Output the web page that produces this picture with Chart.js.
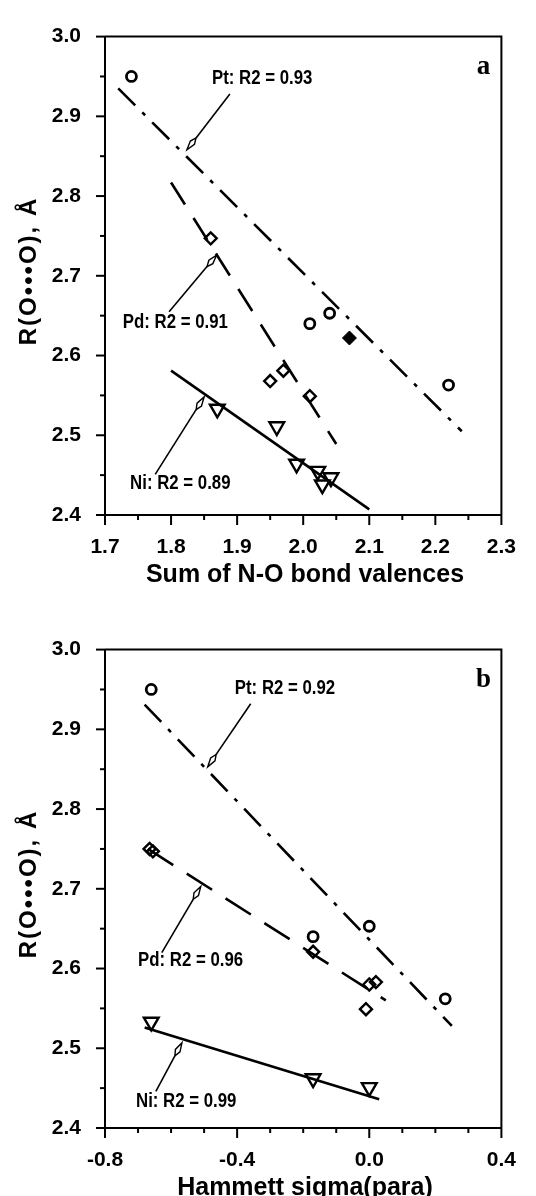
<!DOCTYPE html>
<html>
<head>
<meta charset="utf-8">
<script src="https://cdn.jsdelivr.net/npm/chart.js@4/dist/chart.umd.min.js"></script>
<style>
  body { margin: 0; background: #fff; width: 536px; height: 1196px; overflow: hidden; position: relative; }
  canvas { position: absolute; left: 0; }
  #chartA { top: 0; }
  #chartB { top: 613px; }
</style>
</head>
<body>
<canvas id="chartA" width="536" height="600"></canvas>
<canvas id="chartB" width="536" height="583"></canvas>
<script>
// ---- panel a : R(O...O) vs sum of N-O bond valences ----
const bvPt = [1.74, 2.01, 2.04, 2.22];
const roPtA = [2.950, 2.640, 2.653, 2.563];
const bvPtFilled = [2.07];
const roPtFilled = [2.622];
const bvPd = [1.86, 1.95, 1.97, 2.01];
const roPdA = [2.747, 2.568, 2.581, 2.549];
const bvNi = [1.87, 1.96, 1.99, 2.022, 2.029, 2.042];
const roNiA = [2.533, 2.511, 2.464, 2.455, 2.438, 2.447];
// regression lines (end points)
const fitPtAx = [1.72, 2.24], fitPtAy = [2.935, 2.505];
const fitPdAx = [1.80, 2.05], fitPdAy = [2.817, 2.489];
const fitNiAx = [1.80, 2.10], fitNiAy = [2.581, 2.407];

// ---- panel b : R(O...O) vs Hammett sigma(para) ----
const sigPt = [-0.66, -0.17, 0.00, 0.23];
const roPtB = [2.950, 2.640, 2.653, 2.562];
const sigPd = [-0.665, -0.655, -0.17, -0.01, 0.00, 0.02];
const roPdB = [2.750, 2.747, 2.621, 2.549, 2.580, 2.583];
const sigNi = [-0.66, -0.17, 0.00];
const roNiB = [2.533, 2.462, 2.451];
const fitPtBx = [-0.68, 0.25], fitPtBy = [2.931, 2.528];
const fitPdBx = [-0.67, 0.05], fitPdBy = [2.750, 2.560];
const fitNiBx = [-0.68, 0.03], fitNiBy = [2.526, 2.436];

// labels for the fits: text, text anchor (left, middle) and arrow start/tip, in data units
const notesA = [
  { text: 'Pt: R2 = 0.93', x: 1.862, y: 2.947, from: [1.889, 2.928], to: [1.824, 2.858] },
  { text: 'Pd: R2 = 0.91', x: 1.727, y: 2.641, from: [1.797, 2.655], to: [1.869, 2.726] },
  { text: 'Ni: R2 = 0.89', x: 1.738, y: 2.439, from: [1.776, 2.451], to: [1.850, 2.548] }
];
const notesB = [
  { text: 'Pt: R2 = 0.92', x: -0.407, y: 2.951, from: [-0.359, 2.932], to: [-0.489, 2.853] },
  { text: 'Pd: R2 = 0.96', x: -0.700, y: 2.610, from: [-0.628, 2.620], to: [-0.510, 2.703] },
  { text: 'Ni: R2 = 0.99', x: -0.706, y: 2.433, from: [-0.646, 2.446], to: [-0.567, 2.507] }
];

const yTitle = 'R(O\u2022\u2022\u2022O), \u00c5';
const xTitleA = 'Sum of N-O bond valences';
const xTitleB = 'Hammett sigma(para)';

const sans = '"Liberation Sans", Arial, sans-serif';

function xy(xs, ys) {
  return xs.map((x, i) => ({ x: x, y: ys[i] }));
}

function marks(style, xs, ys, extra) {
  const base = {
    data: xy(xs, ys),
    showLine: false,
    pointStyle: style,
    pointRadius: 5,
    pointBorderWidth: 2.8,
    borderColor: '#000',
    pointBorderColor: '#000',
    backgroundColor: 'rgba(0,0,0,0)',
    pointBackgroundColor: 'rgba(0,0,0,0)'
  };
  return Object.assign(base, extra || {});
}

function fit(xs, ys, dash) {
  return {
    data: xy(xs, ys),
    showLine: true,
    pointRadius: 0,
    borderColor: '#000',
    borderWidth: 2.6,
    borderDash: dash,
    fill: false
  };
}

function arrow(ctx, x0, y0, x1, y1) {
  const ang = Math.atan2(y1 - y0, x1 - x0);
  const ux = Math.cos(ang), uy = Math.sin(ang);
  const px = -uy, py = ux;
  const back = 15, mid = 9, half = 2.6;
  ctx.beginPath();
  ctx.moveTo(x0, y0);
  ctx.lineTo(x1 - ux * back, y1 - uy * back);
  ctx.lineWidth = 1.6;
  ctx.stroke();
  ctx.beginPath();
  ctx.moveTo(x1, y1);
  ctx.lineTo(x1 - ux * mid + px * half, y1 - uy * mid + py * half);
  ctx.lineTo(x1 - ux * back, y1 - uy * back);
  ctx.lineTo(x1 - ux * mid - px * half, y1 - uy * mid - py * half);
  ctx.closePath();
  ctx.fillStyle = '#fff';
  ctx.fill();
  ctx.lineWidth = 1.4;
  ctx.stroke();
}

const decor = {
  id: 'decor',
  afterDraw(chart) {
    const o = chart.options.plugins.decor;
    const ctx = chart.ctx;
    const a = chart.chartArea;
    const xs = chart.scales.x, ys = chart.scales.y;
    ctx.save();
    ctx.strokeStyle = '#000';
    ctx.fillStyle = '#000';
    // top and right frame
    ctx.lineWidth = 2;
    ctx.beginPath();
    ctx.moveTo(a.left, a.top);
    ctx.lineTo(a.right, a.top);
    ctx.lineTo(a.right, a.bottom);
    ctx.stroke();
    // y ticks, major every 0.1, minor every 0.05
    for (let k = 0; k <= 12; k++) {
      const v = 2.4 + k * 0.05;
      const p = ys.getPixelForValue(v);
      const len = k % 2 === 0 ? 9 : 5;
      ctx.beginPath();
      ctx.moveTo(a.left - len, p);
      ctx.lineTo(a.left, p);
      ctx.stroke();
    }
    // x ticks
    const n = Math.round((o.xMax - o.xMin) / o.xMinor);
    for (let k = 0; k <= n; k++) {
      const v = o.xMin + k * o.xMinor;
      const p = xs.getPixelForValue(v);
      const len = k % o.majorEvery === 0 ? 10 : 5;
      ctx.beginPath();
      ctx.moveTo(p, a.bottom);
      ctx.lineTo(p, a.bottom + len);
      ctx.stroke();
    }
    // fit labels (condensed bold) and arrows
    o.notes.forEach(nt => {
      ctx.save();
      ctx.fillStyle = '#000';
      ctx.font = 'bold 20px ' + sans;
      ctx.textAlign = 'left';
      ctx.textBaseline = 'middle';
      ctx.translate(xs.getPixelForValue(nt.x), ys.getPixelForValue(nt.y));
      ctx.scale(0.84, 1);
      ctx.fillText(nt.text, 0, 0);
      ctx.restore();
      arrow(ctx,
        xs.getPixelForValue(nt.from[0]), ys.getPixelForValue(nt.from[1]),
        xs.getPixelForValue(nt.to[0]), ys.getPixelForValue(nt.to[1]));
    });
    // panel letter
    ctx.fillStyle = '#000';
    ctx.textBaseline = 'middle';
    ctx.font = 'bold 27px "Liberation Serif", "Times New Roman", serif';
    ctx.textAlign = 'center';
    ctx.fillText(o.letter, a.right - 18, a.top + 30);
    // axis titles
    ctx.font = 'bold 25px ' + sans;
    ctx.textAlign = 'center';
    ctx.fillText(o.xTitle, 305, a.bottom + 60);
    ctx.translate(29, 271);
    ctx.rotate(-Math.PI / 2);
    ctx.font = 'bold 24px ' + sans;
    ctx.letterSpacing = '2px';
    ctx.fillText(yTitle, 0, 0);
    ctx.restore();
  }
};

function options(xMin, xMax, xStep, xMinor, majorEvery, canvasH, notes, letter, xTitle) {
  return {
    responsive: false,
    animation: false,
    devicePixelRatio: 1,
    layout: { padding: { top: 24, right: 34, left: 0, bottom: 0 } },
    plugins: {
      legend: { display: false },
      tooltip: { enabled: false },
      decor: { xMin: xMin, xMax: xMax, xMinor: xMinor, majorEvery: majorEvery, notes: notes, letter: letter, xTitle: xTitle }
    },
    scales: {
      x: {
        type: 'linear',
        min: xMin,
        max: xMax,
        grid: { display: false, drawTicks: false },
        border: { display: true, color: '#000', width: 2 },
        ticks: {
          stepSize: xStep,
          padding: 20,
          color: '#000',
          font: { family: sans, size: 21, weight: 'bold' },
          callback: v => Number(v).toFixed(1)
        },
        afterFit: s => { s.height = canvasH - 515; }
      },
      y: {
        type: 'linear',
        min: 2.4,
        max: 3.0,
        grid: { display: false, drawTicks: false },
        border: { display: true, color: '#000', width: 2 },
        ticks: {
          stepSize: 0.1,
          padding: 24,
          color: '#000',
          font: { family: sans, size: 21, weight: 'bold' },
          callback: v => Number(v).toFixed(1)
        },
        afterFit: s => { s.width = 105; }
      }
    }
  };
}

new Chart(document.getElementById('chartA'), {
  type: 'scatter',
  data: {
    datasets: [
      fit(fitPtAx, fitPtAy, [24, 10, 4, 10]),
      fit(fitPdAx, fitPdAy, [26, 16]),
      fit(fitNiAx, fitNiAy, []),
      marks('circle', bvPt, roPtA),
      marks('rectRot', bvPtFilled, roPtFilled, { pointRadius: 7, pointBorderWidth: 1, pointBackgroundColor: '#000' }),
      marks('rectRot', bvPd, roPdA, { pointRadius: 6, pointBorderWidth: 2.4 }),
      marks('triangle', bvNi, roNiA, { pointRadius: 8.5, pointRotation: 180, pointBorderWidth: 2.4 })
    ]
  },
  options: options(1.7, 2.3, 0.1, 0.05, 2, 600, notesA, 'a', xTitleA),
  plugins: [decor]
});

new Chart(document.getElementById('chartB'), {
  type: 'scatter',
  data: {
    datasets: [
      fit(fitPtBx, fitPtBy, [24, 10, 4, 10]),
      fit(fitPdBx, fitPdBy, [30, 16]),
      fit(fitNiBx, fitNiBy, []),
      marks('circle', sigPt, roPtB),
      marks('rectRot', sigPd, roPdB, { pointRadius: 6, pointBorderWidth: 2.4 }),
      marks('triangle', sigNi, roNiB, { pointRadius: 8.5, pointRotation: 180, pointBorderWidth: 2.4 })
    ]
  },
  options: options(-0.8, 0.4, 0.4, 0.1, 4, 583, notesB, 'b', xTitleB),
  plugins: [decor]
});
</script>
</body>
</html>
